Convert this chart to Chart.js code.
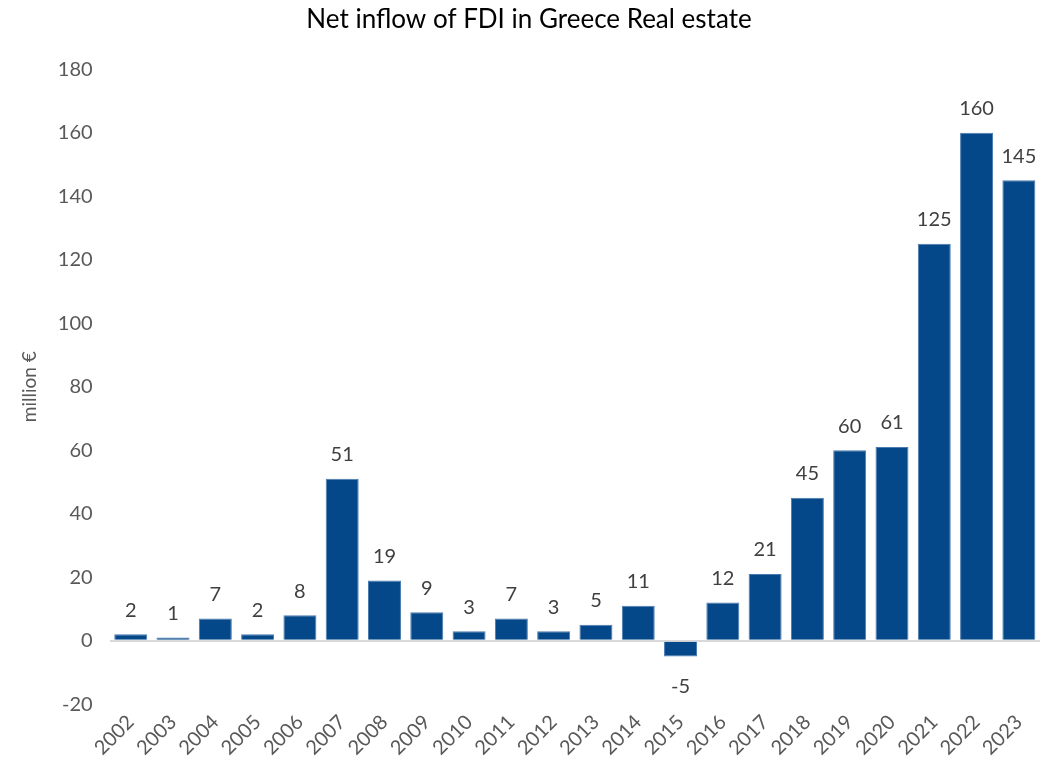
<!DOCTYPE html>
<html>
<head>
<meta charset="utf-8">
<script src="https://cdn.jsdelivr.net/npm/chart.js@4/dist/chart.umd.min.js"></script>
<style>
  html, body { margin: 0; padding: 0; background: #fff; }
  #wrap { width: 1056px; height: 771px; }
</style>
</head>
<body>
<div id="wrap"><canvas id="fdiChart"></canvas></div>
<script>
// Net inflow of FDI in Greece - Real estate (million €)
var years = ['2002', '2003', '2004', '2005', '2006', '2007', '2008', '2009', '2010', '2011', '2012',
             '2013', '2014', '2015', '2016', '2017', '2018', '2019', '2020', '2021', '2022', '2023'];
var inflows = [2, 1, 7, 2, 8, 51, 19, 9, 3, 7, 3, 5, 11, -5, 12, 21, 45, 60, 61, 125, 160, 145];
var yTicks = [-20, 0, 20, 40, 60, 80, 100, 120, 140, 160, 180];

var FONT = "Lato, 'Open Sans', sans-serif";

// simple value labels above / below each bar
var barLabels = {
    id: 'barLabels',
    afterDatasetsDraw: function(chart) {
        var ctx = chart.ctx;
        var meta = chart.getDatasetMeta(0);
        ctx.save();
        ctx.font = '20px ' + FONT;
        ctx.fillStyle = '#404040';
        ctx.textAlign = 'center';
        ctx.textBaseline = 'middle';
        meta.data.forEach(function(bar, i) {
            var v = inflows[i];
            var y = v >= 0 ? bar.y - 24 : bar.y + 30;
            ctx.fillText(String(v), bar.x, y);
        });
        ctx.restore();
    }
};

new Chart(document.getElementById('fdiChart'), {
    type: 'bar',
    data: {
        labels: years,
        datasets: [{
            data: inflows,
            backgroundColor: '#054889',
            borderColor: '#4a7bb0',
            borderWidth: 1,
            categoryPercentage: 1,
            barPercentage: 0.78
        }]
    },
    options: {
        responsive: true,
        maintainAspectRatio: false,
        animation: false,
        layout: { padding: { left: 18, right: 16, top: 2, bottom: 5 } },
        plugins: {
            legend: { display: false },
            tooltip: { enabled: false },
            title: {
                display: true,
                text: 'Net inflow of FDI in Greece Real estate',
                color: '#000',
                font: { family: FONT, size: 26, weight: 'normal' },
                padding: { top: 2, bottom: 34 }
            }
        },
        scales: {
            x: {
                grid: { display: false, drawTicks: false },
                border: { display: false },
                ticks: {
                    color: '#595959',
                    font: { family: FONT, size: 20 },
                    maxRotation: 45,
                    minRotation: 45,
                    padding: 6
                }
            },
            y: {
                min: -20,
                max: 180,
                afterBuildTicks: function(scale) {
                    scale.ticks = yTicks.map(function(v) { return { value: v }; });
                },
                grid: {
                    drawTicks: false,
                    color: function(c) { return c.tick.value === 0 ? '#d9d9d9' : 'rgba(0,0,0,0)'; },
                    lineWidth: 2
                },
                border: { display: false },
                ticks: {
                    color: '#595959',
                    font: { family: FONT, size: 20 },
                    padding: 17
                },
                title: {
                    display: true,
                    text: 'million €',
                    color: '#595959',
                    font: { family: FONT, size: 19 },
                    padding: { top: 0, bottom: 0 }
                }
            }
        }
    },
    plugins: [barLabels]
});
</script>
</body>
</html>
